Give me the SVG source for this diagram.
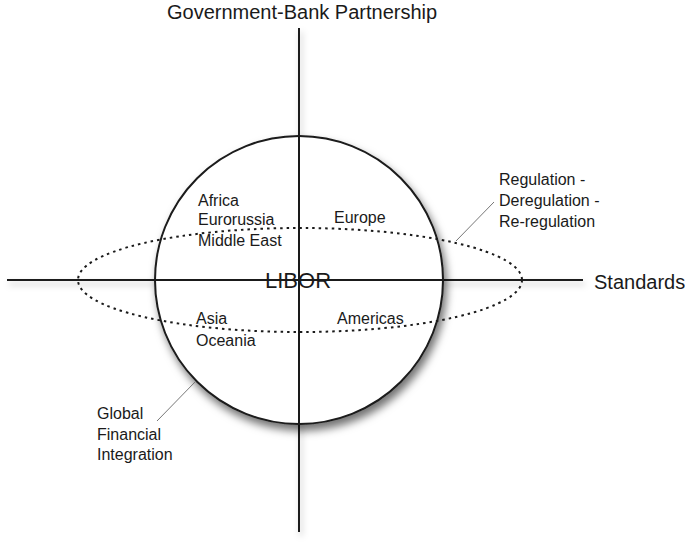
<svg xmlns="http://www.w3.org/2000/svg" width="685" height="546" viewBox="0 0 685 546">
<defs>
<filter id="sh" x="-20%" y="-20%" width="140%" height="150%">
<feDropShadow dx="3" dy="6" stdDeviation="4" flood-color="#000" flood-opacity="0.55"/>
</filter>
<filter id="lsh" x="-5%" y="-50%" width="110%" height="400%">
<feDropShadow dx="2" dy="4" stdDeviation="3" flood-color="#000" flood-opacity="0.25"/>
</filter>
</defs>
<style>
text{font-family:"Liberation Sans",Arial,sans-serif;font-size:16px;fill:#1a1a1a}
.big{font-size:20px}
.axis{stroke:#1a1a1a;stroke-width:2;fill:none}
.lead{stroke:#777;stroke-width:1;fill:none}
.dot{stroke:#1a1a1a;stroke-width:2;fill:none;stroke-dasharray:2.5 4}
</style>
<g id="axes" filter="url(#lsh)">
<line class="axis" x1="299" y1="28" x2="299" y2="532"/>
<line class="axis" x1="7" y1="280" x2="583" y2="280"/>
</g>
<g id="globe">
<circle cx="299" cy="280" r="144" fill="#fff" stroke="#1a1a1a" stroke-width="2" filter="url(#sh)"/>
<line class="axis" x1="299" y1="136" x2="299" y2="424"/>
<line class="axis" x1="155" y1="280" x2="443" y2="280"/>
</g>
<g id="orbit">
<ellipse class="dot" cx="300" cy="280" rx="222" ry="52"/>
</g>
<g id="connectors">
<line class="lead" x1="456" y1="241" x2="494" y2="202"/>
<line class="lead" x1="157" y1="421" x2="195" y2="382"/>
</g>
<g id="labels">
<text class="big" x="167" y="19">Government-Bank Partnership</text>
<text class="big" x="594" y="289">Standards</text>
<text x="499" y="185">Regulation -</text>
<text x="499" y="206">Deregulation -</text>
<text x="499" y="227">Re-regulation</text>
<text x="97" y="419">Global</text>
<text x="97" y="440">Financial</text>
<text x="97" y="460">Integration</text>
</g>
<g id="regions">
<text x="198" y="206">Africa</text>
<text x="198" y="225">Eurorussia</text>
<text x="198" y="246">Middle East</text>
<text x="334" y="223">Europe</text>
<text x="265" y="288" style="font-size:22px">LIBOR</text>
<text x="196" y="324">Asia</text>
<text x="196" y="346">Oceania</text>
<text x="337" y="324">Americas</text>
</g>
</svg>
